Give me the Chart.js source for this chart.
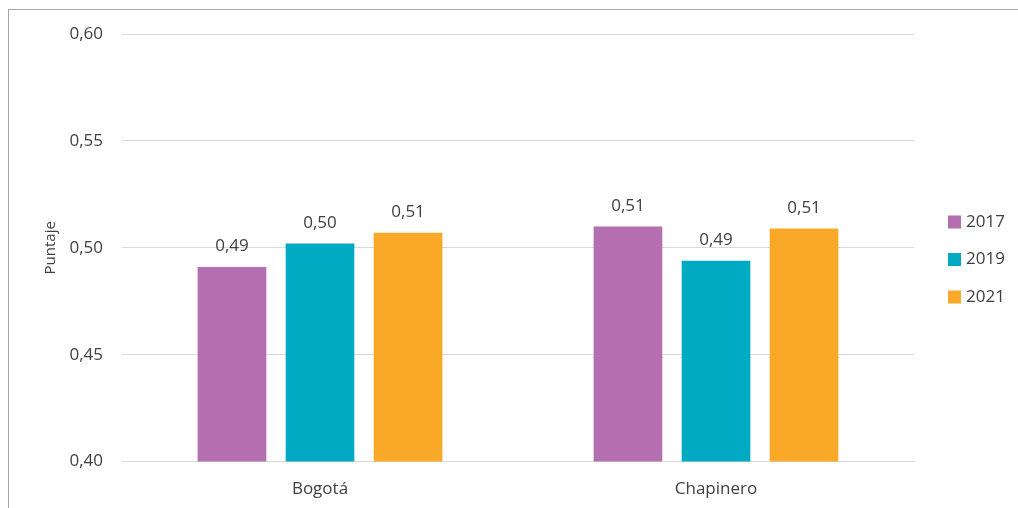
<!DOCTYPE html>
<html>
<head>
<meta charset="utf-8">
<script src="https://cdn.jsdelivr.net/npm/chart.js@4.4.0/dist/chart.umd.min.js"></script>
<style>
  html, body { margin: 0; padding: 0; background: #fff; }
  #wrap { position: relative; width: 1018px; height: 508px; }
  #frame { position: absolute; left: 8px; top: 9px; width: 1030px; height: 520px; border: 1px solid #a6a6a6; box-sizing: border-box; }
  #holder { position: absolute; left: 0; top: 0; width: 1018px; height: 508px; }
</style>
</head>
<body>
<div id="wrap">
  <div id="frame"></div>
  <div id="holder"><canvas id="myChart"></canvas></div>
</div>
<script>
// categorias y valores
var categorias = ["Bogotá", "Chapinero"];
var anios = ["2017", "2019", "2021"];
var valores2017 = [0.491, 0.510];
var valores2019 = [0.502, 0.494];
var valores2021 = [0.507, 0.509];
var colores = ["#B36FAF", "#00AAC2", "#F9A828"];
var ticksY = [0.40, 0.45, 0.50, 0.55, 0.60];

function coma(v){ return v.toFixed(2).replace('.', ','); }

// etiquetas de valor encima de cada barra
var etiquetas = {
    id: 'etiquetas',
    afterDatasetsDraw: function(chart){
        var ctx = chart.ctx;
        ctx.save();
        ctx.font = '17px "Open Sans"';
        ctx.fillStyle = '#404040';
        ctx.textAlign = 'center';
        ctx.textBaseline = 'bottom';
        chart.data.datasets.forEach(function(ds, i){
            var meta = chart.getDatasetMeta(i);
            meta.data.forEach(function(bar, j){
                ctx.fillText(coma(ds.data[j]), bar.x, bar.y - 12);
            });
        });
        ctx.restore();
    }
};

// leyenda a la derecha, dibujada a mano
var leyenda = {
    id: 'leyenda',
    afterDraw: function(chart){
        var ctx = chart.ctx, a = chart.chartArea;
        ctx.save();
        ctx.font = '17px "Open Sans"';
        ctx.textBaseline = 'middle';
        ctx.textAlign = 'left';
        chart.data.datasets.forEach(function(ds, i){
            var y = a.top + 188 + i * 37.5;
            ctx.fillStyle = ds.backgroundColor;
            ctx.fillRect(a.right + 34, y - 6.5, 13, 13);
            ctx.fillStyle = '#404040';
            ctx.fillText(ds.label, a.right + 52, y);
        });
        ctx.restore();
    }
};

var series = [valores2017, valores2019, valores2021];
var datasets = [];
for (var i = 0; i < anios.length; i++) {
    datasets.push({
        label: anios[i],
        data: series[i],
        backgroundColor: colores[i],
        borderWidth: 0,
        barPercentage: 0.78,
        categoryPercentage: 0.667
    });
}

var ctx = document.getElementById("myChart");
var myChart = new Chart(ctx, {
    type: 'bar',
    data: { labels: categorias, datasets: datasets },
    plugins: [etiquetas, leyenda],
    options: {
        responsive: true,
        maintainAspectRatio: false,
        animation: false,
        layout: { padding: { left: 38, top: 34, right: 104, bottom: 0 } },
        plugins: {
            tooltip: { enabled: false },
            legend: { display: false }
        },
        scales: {
            x: {
                grid: { display: false },
                border: { display: true, color: '#d9d9d9' },
                ticks: { color: '#404040', font: { family: 'Open Sans', size: 17 }, padding: 9 }
            },
            y: {
                min: 0.40, max: 0.60,
                afterBuildTicks: function(axis){ axis.ticks = ticksY.map(function(v){ return { value: v }; }); },
                afterFit: function(axis){ axis.width = 84; },
                grid: { color: '#d9d9d9', drawTicks: false },
                border: { display: false },
                ticks: {
                    color: '#404040', padding: 19,
                    font: { family: 'Open Sans', size: 17 },
                    callback: function(v){ return coma(v); }
                },
                title: {
                    display: true, text: 'Puntaje', color: '#404040',
                    font: { family: 'Open Sans', size: 15 }, padding: 4
                }
            }
        }
    }
});
</script>
</body>
</html>
